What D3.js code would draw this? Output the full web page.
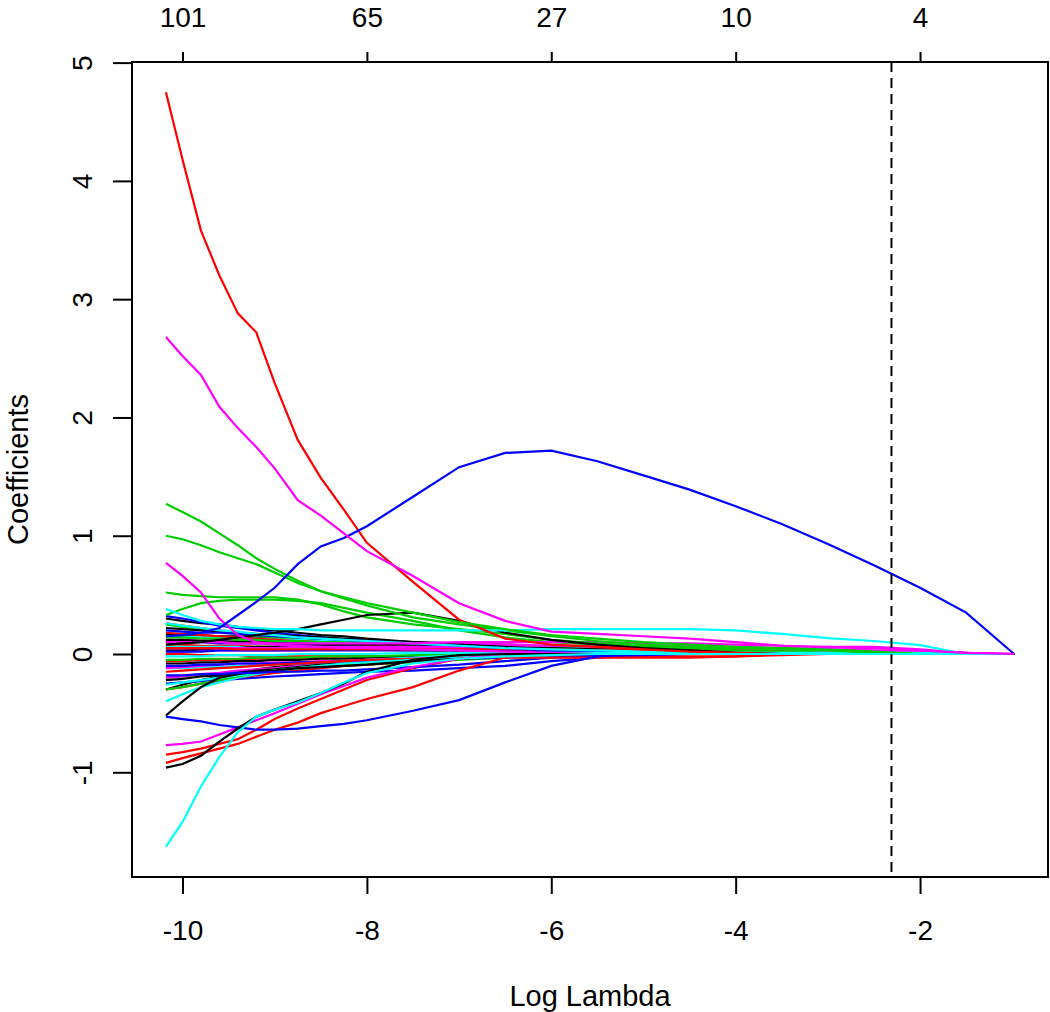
<!DOCTYPE html>
<html>
<head>
<meta charset="utf-8">
<script src="https://cdn.jsdelivr.net/npm/d3@7"></script>
<style>
  body { margin: 0; background: #fff; }
  text { font-family: "Liberation Sans", Arial, sans-serif; fill: #000; }
</style>
</head>
<body>
<div id="chart"></div>
<script>
// log(lambda) grid the paths are read at
const logLambda = [-10.18, -10.0, -9.8, -9.6, -9.4, -9.2, -9.0, -8.75, -8.5, -8.25,
                   -8.0, -7.5, -7.0, -6.5, -6.0, -5.5, -5.0, -4.5, -4.0, -3.5,
                   -3.0, -2.5, -2.0, -1.5, -0.98];

const xTicks = [-10, -8, -6, -4, -2];
const yTicks = [-1, 0, 1, 2, 3, 4, 5];
const dfLabels = ["101", "65", "27", "10", "4"];   // top axis (df), at xTicks
const lambdaMin = -2.31;

// coefficient paths, grouped by colour (R palette 1:6)
const blackPaths = [
  [-0.96,-0.93,-0.86,-0.74,-0.63,-0.53,-0.47,-0.40,-0.33,-0.25,-0.15,-0.05,-0.01,0,0,0,0,0,0,0,0,0,0,0,0],
  [0.08,0.09,0.10,0.12,0.14,0.16,0.18,0.21,0.25,0.29,0.33,0.35,0.28,0.18,0.12,0.08,0.05,0.03,0.01,0,0,0,0,0,0],
  [-0.52,-0.40,-0.28,-0.20,-0.17,-0.15,-0.14,-0.12,-0.11,-0.10,-0.09,-0.06,-0.04,-0.02,0,0,0,0,0,0,0,0,0,0,0],
  [0.22,0.21,0.20,0.19,0.18,0.17,0.16,0.15,0.14,0.13,0.12,0.10,0.08,0.06,0.04,0.02,0.01,0,0,0,0,0,0,0,0],
  [0.03,0.03,0.04,0.05,0.05,0.06,0.06,0.07,0.07,0.08,0.08,0.08,0.07,0.06,0.05,0.04,0.03,0.02,0.01,0,0,0,0,0,0],
  [-0.22,-0.21,-0.19,-0.18,-0.16,-0.14,-0.13,-0.11,-0.09,-0.08,-0.07,-0.05,-0.03,-0.02,-0.01,0,0,0,0,0,0,0,0,0,0],
  [0.12,0.12,0.11,0.11,0.10,0.10,0.10,0.09,0.09,0.09,0.08,0.07,0.06,0.05,0.03,0.02,0.01,0,0,0,0,0,0,0,0],
  [-0.08,-0.08,-0.07,-0.07,-0.06,-0.06,-0.05,-0.05,-0.04,-0.04,-0.03,-0.02,-0.01,0,0,0,0,0,0,0,0,0,0,0,0],
  [0.30,0.28,0.26,0.25,0.23,0.21,0.20,0.18,0.16,0.15,0.13,0.10,0.07,0.04,0.02,0,0,0,0,0,0,0,0,0,0],
  [-0.30,-0.26,-0.22,-0.19,-0.16,-0.13,-0.11,-0.09,-0.07,-0.06,-0.05,-0.03,-0.02,-0.01,0,0,0,0,0,0,0,0,0,0,0],
  [0.17,0.16,0.16,0.15,0.15,0.14,0.14,0.13,0.12,0.12,0.11,0.10,0.09,0.08,0.06,0.05,0.03,0.02,0.01,0,0,0,0,0,0]
];
const redPaths = [
  [4.75,4.18,3.58,3.20,2.88,2.72,2.29,1.81,1.49,1.22,0.94,0.61,0.29,0.13,0.08,0.06,0.04,0.02,0.01,0,0,0,0,0,0],
  [-0.92,-0.88,-0.84,-0.80,-0.76,-0.70,-0.64,-0.58,-0.50,-0.44,-0.38,-0.28,-0.14,-0.03,-0.03,-0.03,-0.03,-0.03,-0.02,0,0,0,0,0,0],
  [-0.85,-0.83,-0.80,-0.76,-0.72,-0.64,-0.55,-0.46,-0.38,-0.30,-0.22,-0.12,-0.04,0,0,0,0,0,0,0,0,0,0,0,0],
  [0.05,0.05,0.05,0.05,0.04,0.04,0.04,0.04,0.04,0.04,0.04,0.04,0.04,0.04,0.04,0.03,0.03,0.03,0.03,0.02,0,0,0,0,0],
  [-0.15,-0.14,-0.13,-0.12,-0.11,-0.10,-0.09,-0.08,-0.07,-0.06,-0.05,-0.04,-0.03,-0.02,-0.01,0,0,0,0,0,0,0,0,0,0],
  [0.18,0.17,0.16,0.15,0.14,0.13,0.12,0.11,0.10,0.09,0.08,0.06,0.05,0.03,0.02,0.01,0,0,0,0,0,0,0,0,0],
  [-0.30,-0.28,-0.25,-0.23,-0.20,-0.18,-0.16,-0.14,-0.12,-0.10,-0.09,-0.06,-0.04,-0.02,0,0,0,0,0,0,0,0,0,0,0],
  [0.08,0.08,0.07,0.07,0.07,0.06,0.06,0.06,0.05,0.05,0.04,0.03,0.02,0.01,0,0,0,0,0,0,0,0,0,0,0],
  [0,0,-0.01,-0.01,-0.01,-0.02,-0.02,-0.02,-0.02,-0.02,-0.02,-0.02,-0.02,-0.02,-0.02,-0.02,-0.02,-0.02,-0.02,-0.01,0,0,0,0,0],
  [0.26,0.24,0.22,0.20,0.18,0.16,0.14,0.12,0.10,0.09,0.08,0.06,0.04,0.02,0.01,0,0,0,0,0,0,0,0,0,0],
  [-0.06,-0.06,-0.05,-0.05,-0.05,-0.04,-0.04,-0.04,-0.03,-0.03,-0.03,-0.02,-0.01,0,0,0,0,0,0,0,0,0,0,0,0]
];
const greenPaths = [
  [1.27,1.20,1.12,1.02,0.92,0.81,0.72,0.62,0.53,0.48,0.43,0.35,0.27,0.21,0.16,0.13,0.10,0.08,0.06,0.05,0.04,0.02,0,0,0],
  [1.00,0.97,0.92,0.86,0.81,0.76,0.69,0.60,0.53,0.47,0.41,0.31,0.25,0.20,0.15,0.11,0.08,0.06,0.05,0.04,0.03,0.01,0,0,0],
  [0.52,0.50,0.49,0.48,0.48,0.48,0.48,0.46,0.42,0.36,0.31,0.25,0.21,0.17,0.12,0.09,0.07,0.05,0.03,0.02,0.01,0,0,0,0],
  [0.33,0.38,0.43,0.45,0.46,0.46,0.46,0.45,0.43,0.39,0.35,0.28,0.20,0.14,0.10,0.08,0.06,0.05,0.05,0.05,0.04,0,0,0,0],
  [-0.30,-0.28,-0.25,-0.22,-0.19,-0.16,-0.14,-0.12,-0.10,-0.09,-0.08,-0.05,-0.03,-0.01,0,0,0,0,0,0,0,0,0,0,0],
  [0.14,0.14,0.13,0.13,0.12,0.12,0.11,0.11,0.10,0.10,0.09,0.08,0.07,0.06,0.05,0.04,0.03,0.02,0.01,0,0,0,0,0,0],
  [-0.05,-0.05,-0.04,-0.04,-0.04,-0.03,-0.03,-0.03,-0.02,-0.02,-0.02,-0.01,-0.01,0,0,0,0,0,0,0,0,0,0,0,0],
  [0.25,0.23,0.21,0.19,0.17,0.15,0.14,0.12,0.11,0.10,0.09,0.07,0.05,0.03,0.02,0,0,0,0,0,0,0,0,0,0],
  [0.06,0.06,0.06,0.06,0.06,0.06,0.06,0.06,0.06,0.06,0.06,0.06,0.06,0.06,0.05,0.05,0.05,0.05,0.05,0.04,0.04,0,0,0,0],
  [-0.20,-0.19,-0.18,-0.17,-0.16,-0.15,-0.14,-0.13,-0.11,-0.10,-0.09,-0.07,-0.05,-0.03,-0.01,0,0,0,0,0,0,0,0,0,0]
];
const bluePaths = [
  [0.15,0.16,0.18,0.22,0.33,0.44,0.56,0.76,0.91,0.98,1.08,1.33,1.58,1.70,1.72,1.63,1.51,1.39,1.25,1.10,0.93,0.75,0.56,0.35,0],
  [-0.53,-0.55,-0.57,-0.60,-0.62,-0.64,-0.64,-0.63,-0.61,-0.59,-0.56,-0.48,-0.39,-0.24,-0.10,-0.02,0,0,0,0,0,0,0,0,0],
  [-0.18,-0.18,-0.17,-0.17,-0.16,-0.16,-0.15,-0.15,-0.14,-0.14,-0.13,-0.11,-0.09,-0.06,-0.03,-0.01,0,0,0,0,0,0,0,0,0],
  [0.20,0.19,0.18,0.18,0.17,0.16,0.15,0.14,0.13,0.12,0.11,0.09,0.07,0.05,0.03,0.02,0.01,0,0,0,0,0,0,0,0],
  [0.02,0.02,0.02,0.03,0.03,0.03,0.03,0.03,0.03,0.03,0.03,0.03,0.03,0.03,0.02,0.02,0.02,0.01,0.01,0.01,0.01,0,0,0,0],
  [-0.10,-0.10,-0.09,-0.09,-0.08,-0.08,-0.08,-0.07,-0.07,-0.06,-0.06,-0.05,-0.04,-0.03,-0.02,-0.01,0,0,0,0,0,0,0,0,0],
  [0.32,0.30,0.27,0.24,0.22,0.20,0.18,0.16,0.14,0.12,0.10,0.07,0.05,0.03,0.01,0,0,0,0,0,0,0,0,0,0],
  [-0.25,-0.24,-0.23,-0.22,-0.21,-0.20,-0.19,-0.18,-0.17,-0.16,-0.15,-0.14,-0.12,-0.10,-0.06,-0.03,-0.01,0,0,0,0,0,0,0,0],
  [0.10,0.10,0.10,0.09,0.09,0.09,0.09,0.08,0.08,0.08,0.08,0.07,0.07,0.06,0.05,0.04,0.03,0.02,0.01,0,0,0,0,0,0]
];
const cyanPaths = [
  [-1.63,-1.42,-1.12,-0.87,-0.66,-0.53,-0.47,-0.41,-0.33,-0.24,-0.16,-0.08,-0.04,-0.02,-0.01,0,0,0,0,0,0,0,0,0,0],
  [0.38,0.33,0.28,0.25,0.23,0.22,0.21,0.21,0.20,0.20,0.20,0.20,0.20,0.20,0.21,0.21,0.21,0.21,0.20,0.17,0.135,0.11,0.075,0,0],
  [-0.02,-0.02,-0.02,-0.01,-0.01,-0.01,-0.01,0,0,0,0,0.01,0.01,0.01,0.01,0.01,0.01,0.01,0.01,0.01,0.01,0.01,0.01,0,0],
  [0.26,0.24,0.22,0.20,0.19,0.17,0.16,0.14,0.13,0.12,0.11,0.09,0.07,0.05,0.04,0.03,0.02,0.01,0,0,0,0,0,0,0],
  [-0.26,-0.24,-0.22,-0.20,-0.18,-0.16,-0.14,-0.12,-0.10,-0.08,-0.07,-0.05,-0.03,-0.01,0,0,0,0,0,0,0,0,0,0,0],
  [0.06,0.06,0.06,0.06,0.06,0.05,0.05,0.05,0.05,0.05,0.05,0.05,0.04,0.04,0.04,0.03,0.03,0.02,0.02,0.01,0,0,0,0,0],
  [-0.40,-0.34,-0.28,-0.24,-0.20,-0.17,-0.14,-0.11,-0.09,-0.07,-0.05,-0.03,-0.01,0,0,0,0,0,0,0,0,0,0,0,0],
  [0.15,0.15,0.14,0.14,0.13,0.13,0.12,0.12,0.11,0.11,0.10,0.09,0.08,0.07,0.06,0.05,0.04,0.03,0.02,0.01,0,0,0,0,0],
  [-0.12,-0.12,-0.11,-0.11,-0.10,-0.09,-0.09,-0.08,-0.07,-0.07,-0.06,-0.05,-0.03,-0.02,-0.01,0,0,0,0,0,0,0,0,0,0]
];
const magentaPaths = [
  [2.68,2.52,2.36,2.09,1.91,1.75,1.57,1.30,1.17,1.02,0.87,0.66,0.43,0.28,0.19,0.17,0.15,0.13,0.10,0.07,0.055,0.05,0.03,0.01,0],
  [0.77,0.66,0.52,0.30,0.16,0.10,0.08,0.07,0.06,0.05,0.05,0.04,0.03,0.02,0.01,0,0,0,0,0,0,0,0,0,0],
  [-0.77,-0.76,-0.74,-0.68,-0.62,-0.56,-0.50,-0.42,-0.34,-0.27,-0.20,-0.11,-0.04,0,0,0,0,0,0,0,0,0,0,0,0],
  [0.10,0.10,0.10,0.10,0.09,0.09,0.09,0.09,0.09,0.09,0.09,0.09,0.10,0.10,0.10,0.10,0.09,0.09,0.08,0.07,0.06,0.06,0.04,0.01,0],
  [0.05,0.05,0.05,0.05,0.05,0.05,0.05,0.06,0.06,0.06,0.06,0.06,0.06,0.07,0.07,0.07,0.07,0.07,0.06,0.05,0.03,0.02,0,0,0],
  [0.02,0.02,0.03,0.03,0.03,0.03,0.03,0.03,0.04,0.04,0.04,0.04,0.04,0.04,0.04,0.04,0.04,0.04,0.04,0.04,0.04,0.03,0.02,0.01,0],
  [-0.12,-0.11,-0.10,-0.09,-0.08,-0.08,-0.07,-0.07,-0.06,-0.06,-0.05,-0.04,-0.03,-0.02,-0.01,0,0,0,0,0,0,0,0,0,0],
  [0.12,0.12,0.12,0.11,0.11,0.11,0.11,0.10,0.10,0.10,0.10,0.09,0.09,0.08,0.07,0.06,0.05,0.04,0.03,0.02,0.01,0,0,0,0],
  [-0.20,-0.19,-0.17,-0.16,-0.14,-0.13,-0.12,-0.10,-0.09,-0.08,-0.07,-0.05,-0.03,-0.02,0,0,0,0,0,0,0,0,0,0,0]
];

const groups = [
  { color: "#000000", paths: blackPaths },
  { color: "#FF0000", paths: redPaths },
  { color: "#00CD00", paths: greenPaths },
  { color: "#0000FF", paths: bluePaths },
  { color: "#00FFFF", paths: cyanPaths },
  { color: "#FF00FF", paths: magentaPaths }
];

//=================================================
// layout
//=================================================
const width = 1050, height = 1012;
const box = { left: 132, right: 1048, top: 62, bottom: 877 };
const fontSize = 28;

// R style ranges: data extent widened by 4% on each side
const xr = d3.extent(logLambda);
const yr = d3.extent(groups.flatMap(g => g.paths.flat()));
const xPad = 0.04 * (xr[1] - xr[0]);
const yPad = 0.04 * (yr[1] - yr[0]);

const x = d3.scaleLinear().domain([xr[0] - xPad, xr[1] + xPad]).range([box.left, box.right]);
const y = d3.scaleLinear().domain([yr[0] - yPad, yr[1] + yPad]).range([box.bottom, box.top]);

const svg = d3.select("#chart").append("svg")
  .attr("width", width)
  .attr("height", height);

svg.append("defs").append("clipPath")
  .attr("id", "plot-clip")
  .append("rect")
  .attr("x", box.left).attr("y", box.top)
  .attr("width", box.right - box.left)
  .attr("height", box.bottom - box.top);

//=================================================
// coefficient paths (round robin over colours, big paths drawn last)
//=================================================
const plot = svg.append("g").attr("clip-path", "url(#plot-clip)");
const line = d3.line()
  .x((d, i) => x(logLambda[i]))
  .y(d => y(d));

const nMax = d3.max(groups, g => g.paths.length);
for (let i = nMax - 1; i >= 0; i--) {
  groups.forEach(g => {
    if (!g.paths[i]) return;
    plot.append("path")
      .attr("d", line(g.paths[i]))
      .attr("fill", "none")
      .attr("stroke", g.color)
      .attr("stroke-width", 2.2);
  });
}

// lambda.min marker
plot.append("line")
  .attr("x1", x(lambdaMin)).attr("x2", x(lambdaMin))
  .attr("y1", box.top).attr("y2", box.bottom)
  .attr("stroke", "#000")
  .attr("stroke-width", 2)
  .attr("stroke-dasharray", "10,6");

//=================================================
// axes
//=================================================
const fmt = d => String(d);   // plain hyphen minus, like R

const axisBottom = svg.append("g")
  .attr("transform", "translate(0," + box.bottom + ")")
  .call(d3.axisBottom(x).tickValues(xTicks).tickSize(17).tickFormat(fmt));
axisBottom.select(".domain").remove();
axisBottom.selectAll("text")
  .attr("y", 63).attr("dy", null)
  .attr("font-size", fontSize);

const axisTop = svg.append("g")
  .attr("transform", "translate(0," + box.top + ")")
  .call(d3.axisTop(x).tickValues(xTicks).tickSize(10).tickFormat((d, i) => dfLabels[i]));
axisTop.select(".domain").remove();
axisTop.selectAll("text")
  .attr("y", -35).attr("dy", null)
  .attr("font-size", fontSize);

const axisLeft = svg.append("g")
  .attr("transform", "translate(" + box.left + ",0)")
  .call(d3.axisLeft(y).tickValues(yTicks).tickSize(19).tickFormat(fmt));
axisLeft.select(".domain").remove();
axisLeft.selectAll("text")
  .attr("x", null).attr("dy", null)
  .attr("text-anchor", "middle")
  .attr("transform", "translate(-40,0) rotate(-90)")
  .attr("font-size", fontSize);

svg.selectAll(".tick line").attr("stroke", "#000").attr("stroke-width", 2);

// box
svg.append("rect")
  .attr("x", box.left).attr("y", box.top)
  .attr("width", box.right - box.left)
  .attr("height", box.bottom - box.top)
  .attr("fill", "none")
  .attr("stroke", "#000")
  .attr("stroke-width", 2);

// axis titles
svg.append("text")
  .attr("x", (box.left + box.right) / 2)
  .attr("y", 1006)
  .attr("text-anchor", "middle")
  .attr("font-size", fontSize + 1)
  .text("Log Lambda");

svg.append("text")
  .attr("transform", "translate(28," + ((box.top + box.bottom) / 2) + ") rotate(-90)")
  .attr("text-anchor", "middle")
  .attr("font-size", fontSize + 1)
  .text("Coefficients");
</script>
</body>
</html>
